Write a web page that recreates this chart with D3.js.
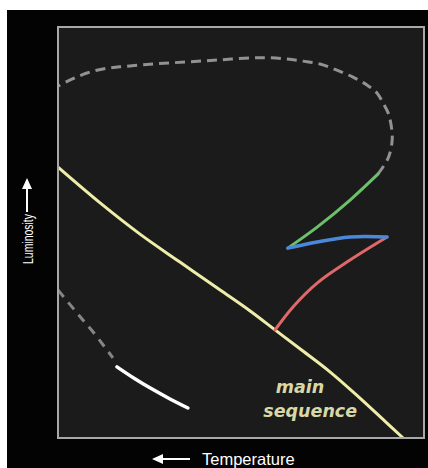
<!DOCTYPE html>
<html><head><meta charset="utf-8">
<script src="https://cdn.jsdelivr.net/npm/d3@7"></script>
<style>html,body{margin:0;padding:0;background:#fff;}svg{display:block;}</style>
</head><body>
<script>
// Data in abstract units: x = reversed temperature (0 = hot/left), y = luminosity (0..100)
const mainSequence = [[0,65.9],[11.5,57.2],[22.4,49.6],[33.3,42.8],[44.3,36.0],[52.5,30.9],[59.3,26.3],[66.1,21.7],[74.3,16.1],[82.5,9.7],[89.3,4.1],[94.3,0]];
const redGiantBranch = [[59.3,26.3],[64.2,31.9],[70.8,37.7],[79.8,43.3],[89.9,48.9]];
const horizontalBranch = [[89.9,48.9],[79.8,48.9],[70.8,47.7],[62.8,46.2]];
const asymptoticBranch = [[62.8,46.2],[70.8,51.3],[79.8,57.9],[87.4,64.2]];
const postAGB = [[87.4,64.2],[90.2,68.1],[91.3,72.5],[91.0,76.2],[90.2,79.1],[88.8,81.5],[87.2,83.9],[84.4,85.9],[80.6,87.8],[76.2,89.5],[71.6,91.0],[66.9,91.7],[62.6,92.2],[57.9,92.5],[53.3,92.5],[44.3,92.0],[35.2,91.5],[26.0,91.0],[16.9,90.3],[12.3,89.8],[7.9,88.8],[3.8,87.3],[0,85.6]];
const toWhiteDwarf = [[0,36.0],[4.1,31.6],[6.8,28.7],[9.6,25.8],[12.8,22.1],[15.0,19.5]];
const whiteDwarf = [[16.1,17.3],[21.0,14.4],[25.1,12.2],[30.6,9.5],[35.5,7.3]];
const axisLabels = {x: "Temperature", y: "Luminosity"};
const regionLabel = ["main", "sequence"];

const W = 428, H = 468;
const svg = d3.select("body").append("svg").attr("width", W).attr("height", H);
svg.append("rect").attr("x",7).attr("y",10).attr("width",W-7).attr("height",H-10).attr("fill","#030303");

const plot = {l:58, t:27, r:424, b:438};
const x = d3.scaleLinear().domain([0,100]).range([plot.l, plot.r]);
const y = d3.scaleLinear().domain([0,100]).range([plot.b, plot.t]);

svg.append("rect").attr("x",plot.l).attr("y",plot.t).attr("width",plot.r-plot.l).attr("height",plot.b-plot.t)
  .attr("fill","#1b1b1b").attr("stroke","#a8a8a8").attr("stroke-width",2);

const g = svg.append("g");
g.append("clipPath").attr("id","clip").append("rect")
  .attr("x",plot.l+1).attr("y",plot.t+1).attr("width",plot.r-plot.l-2).attr("height",plot.b-plot.t-2);
const lines = g.append("g").attr("clip-path","url(#clip)");
const line = d3.line().x(d=>x(d[0])).y(d=>y(d[1])).curve(d3.curveCatmullRom.alpha(0.5));

function draw(data, color, width, dash){
  const p = lines.append("path").datum(data).attr("d", line).attr("fill","none")
    .attr("stroke", color).attr("stroke-width", width).attr("stroke-linecap", dash ? "butt" : "round");
  if (dash) p.attr("stroke-dasharray", dash);
}
draw(postAGB, "#929292", 3, "10,6");
draw(toWhiteDwarf, "#858585", 3, "9,7");
draw(mainSequence, "#eeeeaa", 3);
draw(redGiantBranch, "#e06868", 3);
draw(asymptoticBranch, "#6cc06c", 3);
draw(horizontalBranch, "#4a88dc", 3.5);
draw(whiteDwarf, "#ffffff", 3.5);

// main sequence label
const lab = svg.append("text").attr("font-family","DejaVu Sans").attr("font-weight","bold")
  .attr("font-style","italic").attr("font-size",17.5).attr("fill","#d8d8a6").attr("text-anchor","middle");
lab.append("tspan").attr("x", x(66.1)).attr("y", y(10.9)).text(regionLabel[0]);
lab.append("tspan").attr("x", x(68.9)).attr("y", y(5.1)).text(regionLabel[1]);

// axis labels with arrows
svg.append("line").attr("x1",190).attr("y1",459).attr("x2",160).attr("y2",459)
  .attr("stroke","#fff").attr("stroke-width",2);
svg.append("path").attr("d","M152,459L163,454L163,464Z").attr("fill","#fff");
svg.append("text").attr("x",202).attr("y",465).attr("font-family","Liberation Sans, Arial, sans-serif")
  .attr("font-size",16.5).attr("fill","#fff").text(axisLabels.x);

svg.append("line").attr("x1",27).attr("y1",212).attr("x2",27).attr("y2",186)
  .attr("stroke","#fff").attr("stroke-width",2);
svg.append("path").attr("d","M27,178L22,189L32,189Z").attr("fill","#fff");
svg.append("text").attr("transform","translate(33,264) rotate(-90)")
  .attr("font-family","Liberation Sans, Arial, sans-serif").attr("font-size",15)
  .attr("textLength",50).attr("lengthAdjust","spacingAndGlyphs").attr("fill","#fff").text(axisLabels.y);
</script>
</body></html>
